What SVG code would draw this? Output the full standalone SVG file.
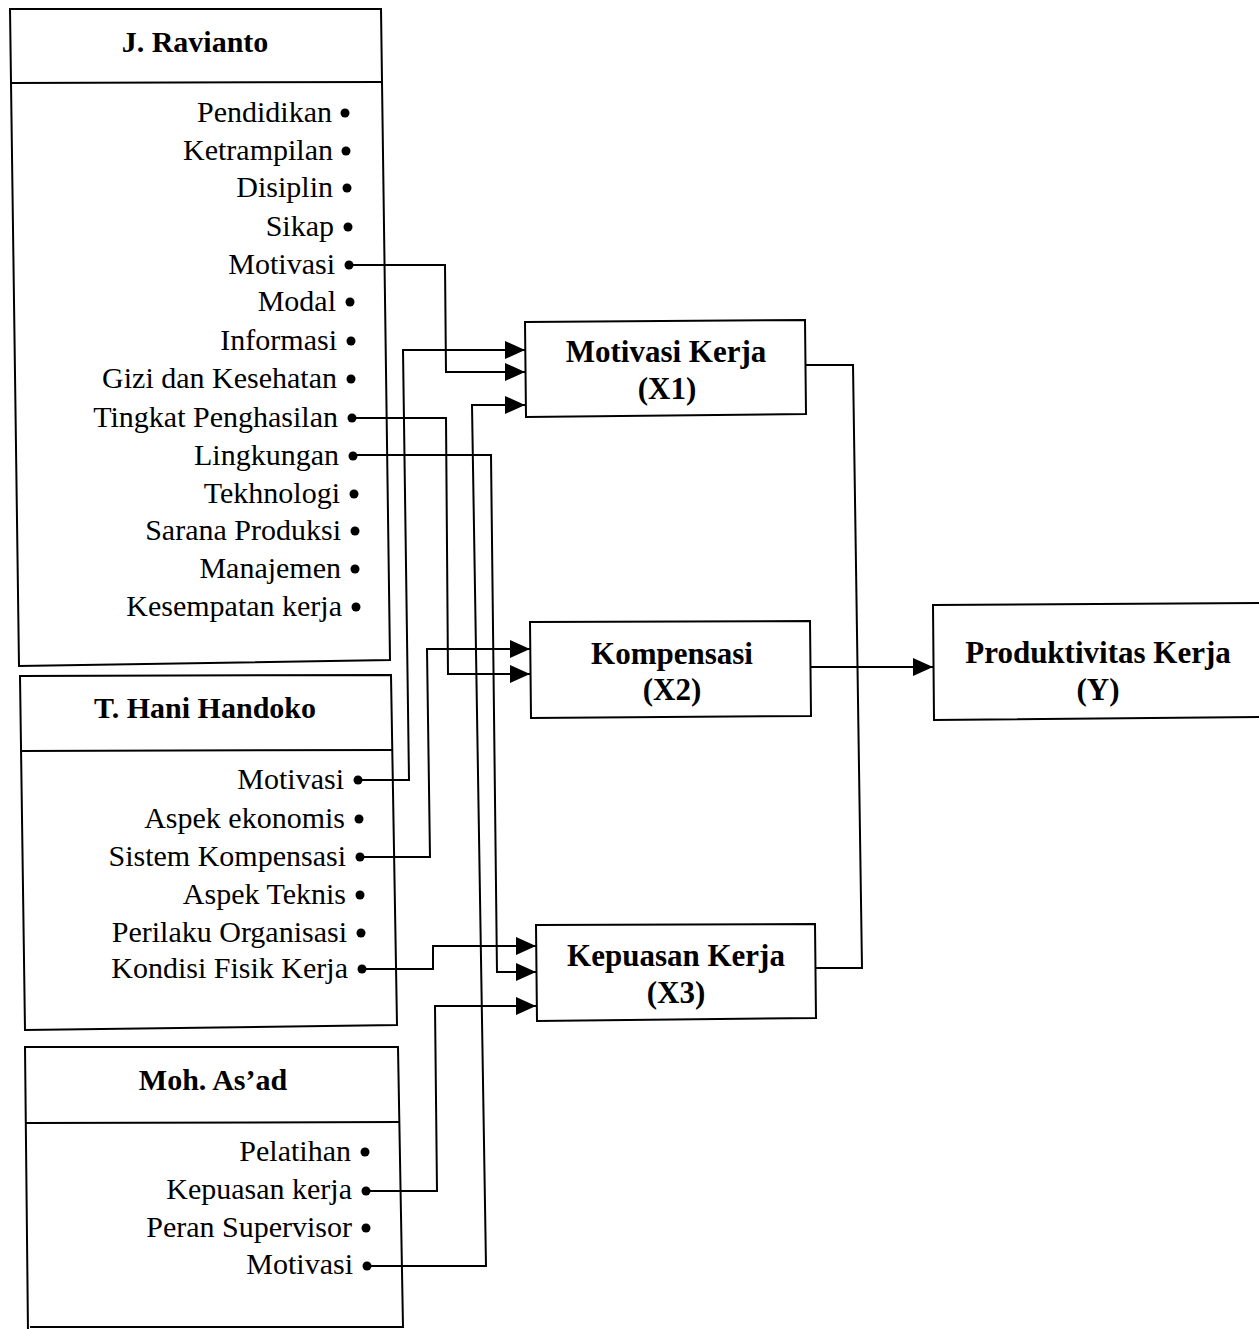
<svg xmlns="http://www.w3.org/2000/svg" width="1259" height="1329" viewBox="0 0 1259 1329">
<style>
.box{fill:none;stroke:#000;stroke-width:2}
.ln{fill:none;stroke:#000;stroke-width:2}
.hd{font-family:"Liberation Serif",serif;font-weight:bold;font-size:30px;text-anchor:middle;fill:#000}
.bx{font-family:"Liberation Serif",serif;font-weight:bold;font-size:31px;text-anchor:middle;fill:#000}
.it{font-family:"Liberation Serif",serif;font-size:30px;text-anchor:end;fill:#000}
.dot{fill:#000}
</style>
<defs>
<marker id="ah" markerWidth="20" markerHeight="18" refX="20" refY="9" orient="auto" markerUnits="userSpaceOnUse">
<path d="M0,0 L20,9 L0,18 Z" fill="#000"/>
</marker>
</defs>
<rect width="1259" height="1329" fill="#fff"/>

<g id="node-ravianto">
<polygon class="box" points="10,9 381,9 390,660 19,666"/>
<line class="box" x1="10" y1="83" x2="382" y2="82"/>
<text class="hd" x="195" y="52">J. Ravianto</text>
<text class="it" x="332" y="122">Pendidikan</text><circle class="dot" cx="345" cy="113" r="4.5"/>
<text class="it" x="333" y="160">Ketrampilan</text><circle class="dot" cx="346" cy="151" r="4.5"/>
<text class="it" x="333" y="197">Disiplin</text><circle class="dot" cx="347" cy="188" r="4.5"/>
<text class="it" x="334" y="236">Sikap</text><circle class="dot" cx="348" cy="227" r="4.5"/>
<text class="it" x="335" y="274">Motivasi</text><circle class="dot" cx="349" cy="265" r="4.5"/>
<text class="it" x="336" y="311">Modal</text><circle class="dot" cx="350" cy="302" r="4.5"/>
<text class="it" x="337" y="350">Informasi</text><circle class="dot" cx="351" cy="341" r="4.5"/>
<text class="it" x="337" y="388">Gizi dan Kesehatan</text><circle class="dot" cx="351" cy="379" r="4.5"/>
<text class="it" x="338" y="427">Tingkat Penghasilan</text><circle class="dot" cx="352" cy="418" r="4.5"/>
<text class="it" x="339" y="465">Lingkungan</text><circle class="dot" cx="353" cy="456" r="4.5"/>
<text class="it" x="340" y="503">Tekhnologi</text><circle class="dot" cx="354" cy="494" r="4.5"/>
<text class="it" x="341" y="540">Sarana Produksi</text><circle class="dot" cx="355" cy="531" r="4.5"/>
<text class="it" x="341" y="578">Manajemen</text><circle class="dot" cx="355" cy="569" r="4.5"/>
<text class="it" x="342" y="616">Kesempatan kerja</text><circle class="dot" cx="356" cy="607" r="4.5"/>
</g>

<g id="node-handoko">
<polygon class="box" points="20,676 391,675 397,1025 25,1030"/>
<line class="box" x1="20" y1="751" x2="392" y2="750"/>
<text class="hd" x="205" y="718">T. Hani Handoko</text>
<text class="it" x="344" y="789">Motivasi</text><circle class="dot" cx="358" cy="780" r="4.5"/>
<text class="it" x="345" y="828">Aspek ekonomis</text><circle class="dot" cx="359" cy="819" r="4.5"/>
<text class="it" x="346" y="866">Sistem Kompensasi</text><circle class="dot" cx="360" cy="857" r="4.5"/>
<text class="it" x="346" y="904">Aspek Teknis</text><circle class="dot" cx="360" cy="895" r="4.5"/>
<text class="it" x="347" y="942">Perilaku Organisasi</text><circle class="dot" cx="361" cy="933" r="4.5"/>
<text class="it" x="348" y="978">Kondisi Fisik Kerja</text><circle class="dot" cx="362" cy="969" r="4.5"/>
</g>

<g id="node-asad">
<polyline class="box" points="28,1332 25,1047 398,1047 403,1327 30,1327"/>
<line class="box" x1="26" y1="1123" x2="399" y2="1122"/>
<text class="hd" x="213" y="1090">Moh. As’ad</text>
<text class="it" x="351" y="1161">Pelatihan</text><circle class="dot" cx="365" cy="1152" r="4.5"/>
<text class="it" x="352" y="1199">Kepuasan kerja</text><circle class="dot" cx="366" cy="1191" r="4.5"/>
<text class="it" x="352" y="1237">Peran Supervisor</text><circle class="dot" cx="366" cy="1228" r="4.5"/>
<text class="it" x="353" y="1274">Motivasi</text><circle class="dot" cx="367" cy="1266" r="4.5"/>
</g>

<g id="node-x1">
<polygon class="box" points="525,322 805,320 806,414 526,417"/>
<text class="bx" x="666" y="362">Motivasi Kerja</text>
<text class="bx" x="667" y="399">(X1)</text>
</g>

<g id="node-x2">
<polygon class="box" points="530,622 810,621 811,716 531,718"/>
<text class="bx" x="672" y="664">Kompensasi</text>
<text class="bx" x="672" y="700">(X2)</text>
</g>

<g id="node-x3">
<polygon class="box" points="536,925 815,924 816,1018 537,1021"/>
<text class="bx" x="676" y="966">Kepuasan Kerja</text>
<text class="bx" x="676" y="1003">(X3)</text>
</g>

<g id="node-y">
<polygon class="box" points="933,605 1262,603 1262,717 934,720"/>
<text class="bx" x="1098" y="663">Produktivitas Kerja</text>
<text class="bx" x="1098" y="700">(Y)</text>
</g>

<g id="connectors">
<polyline class="ln" marker-end="url(#ah)" points="349,265 445,265 446,372 525,372"/>
<polyline class="ln" marker-end="url(#ah)" points="358,780 409,780 403,350 525,350"/>
<polyline class="ln" marker-end="url(#ah)" points="352,418 446,418 448,674 530,674"/>
<polyline class="ln" marker-end="url(#ah)" points="353,455 491,455 497,972 536,972"/>
<polyline class="ln" marker-end="url(#ah)" points="360,857 430,857 427,649 530,649"/>
<polyline class="ln" marker-end="url(#ah)" points="362,969 433,969 433,946 536,946"/>
<polyline class="ln" marker-end="url(#ah)" points="366,1191 437,1191 435,1006 536,1006"/>
<polyline class="ln" marker-end="url(#ah)" points="367,1266 486,1266 472,405 525,405"/>
<polyline class="ln" points="806,365 853,365 862,968 816,968"/>
<polyline class="ln" marker-end="url(#ah)" points="811,667 933,667"/>
</g>
</svg>
